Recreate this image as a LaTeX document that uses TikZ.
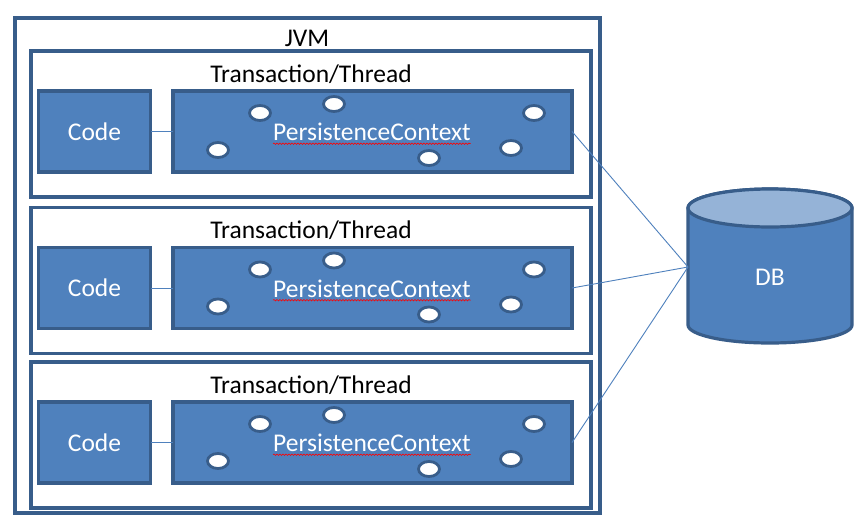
\documentclass[tikz,border=0pt]{standalone}
\usepackage{fontspec}
\setmainfont{Carlito}
\usetikzlibrary{decorations.pathmorphing}
\definecolor{fillblue}{HTML}{4F81BD}
\definecolor{edgeblue}{HTML}{385D8A}
\definecolor{topblue}{HTML}{95B3D7}
\begin{document}
\begin{tikzpicture}[x=1pt,y=-1pt,
  font=\fontsize{25.5}{30}\selectfont,
  frame/.style={draw=edgeblue, line width=3.2pt, fill=white, inner sep=0pt, outer sep=0pt},
  bluebox/.style={draw=edgeblue, line width=3.2pt, fill=fillblue, text=white, inner sep=0pt, outer sep=0pt},
  dot/.style={draw=edgeblue, line width=2.8pt, fill=white},
  link/.style={draw=fillblue, line width=0.9pt},
  squiggle/.style={draw=red, line width=0.6pt, decorate, decoration={snake, segment length=3pt, amplitude=0.7pt}},
  lbl/.style={inner sep=0pt}]
\useasboundingbox (0,0) rectangle (864,528);
\fill[white] (0,0) rectangle (864,528);

% JVM
\node[frame, minimum width=585pt, minimum height=495pt] (jvm) at (307.5,265.5) {};

% DB cylinder
\path[draw=edgeblue, line width=3.2pt, fill=fillblue]
  (688,208) -- (688,325) arc[start angle=180, end angle=360, x radius=82pt, y radius=18pt]
  -- (852,208) arc[start angle=0, end angle=180, x radius=82pt, y radius=19pt] -- cycle;
\draw[draw=edgeblue, line width=3.2pt, fill=topblue] (770,208) ellipse [x radius=82pt, y radius=19pt];
\node[lbl, text=white] (db) at (770,277) {DB};
\coordinate (dbin) at (688,267);

\foreach \i/\dy in {1/0,2/156.5,3/311} {
  \node[frame, minimum width=560pt, minimum height=146pt] (tx\i) at (311,124+\dy) {};
  \node[lbl] (tl\i) at (311,74+\dy) {Transaction/Thread};
  \node[bluebox, minimum width=112pt, minimum height=81pt] (code\i) at (94.5,131.5+\dy) {Code};
  \node[bluebox, minimum width=399pt, minimum height=81pt] (pc\i) at (372.5,131.5+\dy) {};
  \node[lbl, text=white] (pct\i) at (372,132+\dy) {PersistenceContext};
  \draw[squiggle] ([yshift=-3pt]pct\i.base west) -- ([yshift=-3pt]pct\i.base east);
  \draw[dot] (260,113+\dy) ellipse [x radius=10.5pt, y radius=7.5pt];
  \draw[dot] (334,104+\dy) ellipse [x radius=10.5pt, y radius=7.5pt];
  \draw[dot] (534,113+\dy) ellipse [x radius=10.5pt, y radius=7.5pt];
  \draw[dot] (218,150+\dy) ellipse [x radius=10.5pt, y radius=7.5pt];
  \draw[dot] (429,158+\dy) ellipse [x radius=10.5pt, y radius=7.5pt];
  \draw[dot] (511,148+\dy) ellipse [x radius=10.5pt, y radius=7.5pt];
  \draw[link] (code\i.east) -- (pc\i.west);
  \draw[link] (pc\i.east) -- (dbin);
}
\node[lbl] (jvmlabel) at (307,38.5) {JVM};
\end{tikzpicture}
\end{document}
